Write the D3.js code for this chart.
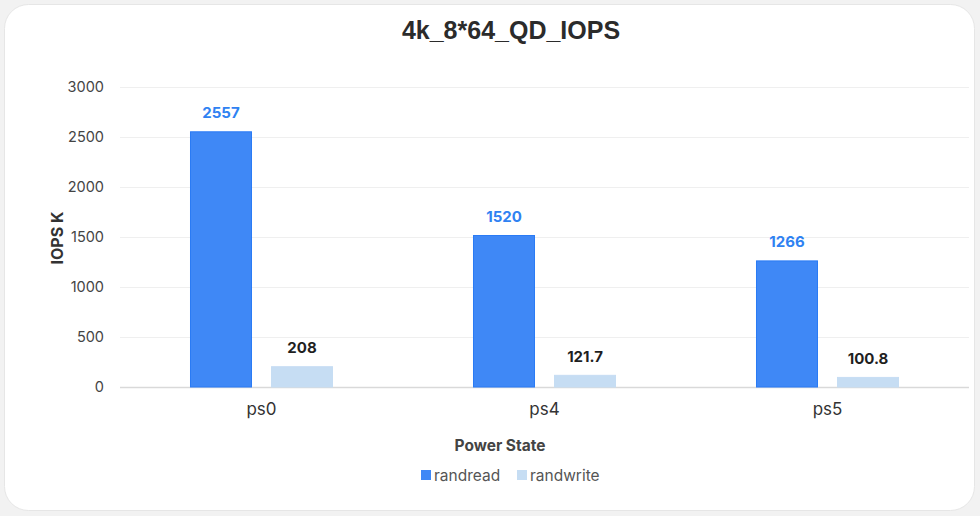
<!DOCTYPE html>
<html><head><meta charset="utf-8">
<script src="https://cdn.jsdelivr.net/npm/d3@7"></script>
<style>
html,body{margin:0;padding:0;background:#f2f2f2;}
svg{display:block;}
</style></head>
<body>
<svg id="chart" width="980" height="516"></svg>
<script>
const categories = ["ps0", "ps4", "ps5"];
const seriesNames = ["randread", "randwrite"];
const randread = [2557, 1520, 1266];
const randwrite = [208, 121.7, 100.8];
const yTicks = [0, 500, 1000, 1500, 2000, 2500, 3000];
const colors = ["#3f88f6", "#c6ddf3"];
const strokeColors = ["#2a7bf5", "#c6ddf3"];
const labelColors = ["#2f82f2", "#1f1f1f"];

const svg = d3.select("#chart");
svg.append("rect").attr("x", 4.5).attr("y", 4.5).attr("width", 970).attr("height", 506)
  .attr("rx", 24).attr("fill", "#fff").attr("stroke", "#e6e6e6");

const m = {l: 120, r: 969, t: 87, b: 387};
const x0 = d3.scaleBand().domain(categories).range([m.l, m.r]).padding(0);
const x1 = d3.scaleBand().domain(seriesNames).range([0, x0.bandwidth()]).paddingInner(0.2346).paddingOuter(0.864);
const y = d3.scaleLinear().domain([0, 3000]).range([m.b, m.t]);

// grid
svg.append("g").selectAll("line").data(yTicks).join("line")
  .attr("x1", m.l).attr("x2", m.r).attr("y1", d => y(d) + 0.5).attr("y2", d => y(d) + 0.5)
  .attr("stroke", d => d === 0 ? "#d9d9d9" : "#efefef").attr("stroke-width", d => d === 0 ? 1.5 : 1);

// y axis
const yAxis = svg.append("g").attr("transform", `translate(${m.l},0)`)
  .call(d3.axisLeft(y).tickValues(yTicks).tickFormat(d3.format("d")).tickSize(0).tickPadding(16));
yAxis.select(".domain").remove();
yAxis.selectAll("text").attr("font-family", "Inter, 'Noto Sans', sans-serif").attr("font-size", 14.5).attr("fill", "#444");

// x axis
const xAxis = svg.append("g").attr("transform", `translate(0,${m.b})`)
  .call(d3.axisBottom(x0).tickSize(0).tickPadding(16));
xAxis.select(".domain").remove();
xAxis.selectAll("text").attr("font-family", "Inter, 'Noto Sans', sans-serif").attr("font-size", 17).attr("fill", "#333");

const data = categories.map((c, i) => ({cat: c, vals: [randread[i], randwrite[i]]}));
const groups = svg.append("g").selectAll("g").data(data).join("g")
  .attr("transform", d => `translate(${x0(d.cat)},0)`);
groups.selectAll("rect").data(d => d.vals.map((v, j) => ({s: seriesNames[j], v, j}))).join("rect")
  .attr("x", d => x1(d.s) + 0.5).attr("width", x1.bandwidth() - 1)
  .attr("y", d => y(d.v) + 0.5).attr("height", d => y(0) - y(d.v) - 0.5)
  .attr("fill", d => colors[d.j]).attr("stroke", d => strokeColors[d.j]).attr("stroke-width", 1);
groups.selectAll("text").data(d => d.vals.map((v, j) => ({s: seriesNames[j], v, j}))).join("text")
  .attr("x", d => x1(d.s) + x1.bandwidth() / 2).attr("y", d => y(d.v) - 13)
  .attr("text-anchor", "middle").attr("font-family", "Inter, 'Noto Sans', sans-serif")
  .attr("font-weight", 700).attr("font-size", 15).attr("fill", d => labelColors[d.j])
  .text(d => d.v);

// title
svg.append("text").attr("x", 511).attr("y", 39).attr("text-anchor", "middle")
  .attr("font-family", "'Liberation Sans', Arial, sans-serif").attr("font-weight", 700)
  .attr("font-size", 25).attr("fill", "#2b2b2b").text("4k_8*64_QD_IOPS");

// axis titles
svg.append("text").attr("transform", "translate(63,238) rotate(-90)").attr("text-anchor", "middle")
  .attr("font-family", "Inter, 'Noto Sans', sans-serif").attr("font-weight", 700)
  .attr("font-size", 16).attr("fill", "#333").text("IOPS K");
svg.append("text").attr("x", 500).attr("y", 451).attr("text-anchor", "middle")
  .attr("font-family", "Inter, 'Noto Sans', sans-serif").attr("font-weight", 700)
  .attr("font-size", 15.5).attr("fill", "#444").text("Power State");

// legend
const legX = [421, 517];
const leg = svg.append("g").selectAll("g").data(seriesNames).join("g")
  .attr("transform", (d, i) => `translate(${legX[i]},470)`);
leg.append("rect").attr("width", 10).attr("height", 10).attr("fill", (d, i) => colors[i]);
leg.append("text").attr("x", 13).attr("y", 10.5).attr("font-family", "Inter, 'Noto Sans', sans-serif")
  .attr("font-size", 15.5).attr("fill", "#555").text(d => d);
</script>
</body></html>
